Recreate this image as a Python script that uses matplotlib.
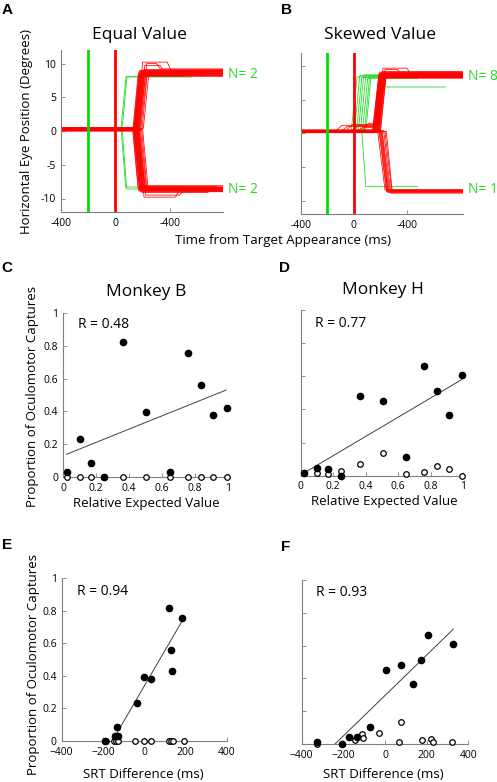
import matplotlib
matplotlib.use("Agg")
import matplotlib.pyplot as plt

plt.rcParams["font.family"] = ["Open Sans", "DejaVu Sans"]
plt.rcParams["axes.unicode_minus"] = False

W, H = 497, 782

# ── eye traces: (baseline, onset, landing, amplitude, end) in ms / deg ──
A_RED_UP = [
    (0.2, 128, 168, 8.6, 790), (0.3, 132, 172, 8.3, 790), (0.1, 135, 175, 8.9, 790),
    (0.4, 137, 180, 8.5, 790), (0.2, 140, 178, 8.2, 790), (0.3, 142, 185, 8.8, 760),
    (0.5, 144, 182, 9.0, 790), (0.2, 146, 190, 8.4, 790), (0.0, 148, 188, 8.7, 790),
    (0.3, 150, 192, 8.6, 700), (0.4, 152, 195, 8.1, 790), (0.2, 155, 193, 8.9, 790),
    (0.1, 158, 200, 8.5, 790), (0.3, 160, 205, 8.3, 790), (0.2, 163, 203, 8.7, 790),
    (0.4, 166, 210, 9.1, 790), (0.3, 170, 212, 8.4, 650), (0.1, 175, 215, 8.8, 790),
    (0.2, 180, 222, 8.6, 790), (0.3, 186, 228, 8.2, 790), (0.2, 195, 235, 8.9, 790),
    (0.4, 205, 245, 8.5, 790),
]
A_RED_DOWN = [
    (0.2, 126, 166, -8.5, 790), (0.3, 130, 170, -8.8, 790), (0.1, 133, 176, -8.3, 790),
    (0.4, 136, 178, -8.9, 790), (0.2, 139, 180, -8.6, 790), (0.3, 141, 184, -8.2, 740),
    (0.5, 143, 186, -9.0, 790), (0.2, 146, 188, -8.4, 790), (0.0, 148, 190, -8.7, 790),
    (0.3, 151, 193, -8.5, 790), (0.4, 153, 196, -9.1, 680), (0.2, 156, 198, -8.3, 790),
    (0.1, 159, 201, -8.8, 790), (0.3, 162, 205, -8.6, 790), (0.2, 165, 207, -8.1, 790),
    (0.4, 168, 212, -8.9, 790), (0.3, 172, 215, -8.5, 790), (0.1, 178, 220, -8.7, 790),
    (0.2, 184, 226, -8.4, 790), (0.3, 192, 232, -8.8, 790), (0.2, 200, 240, -8.6, 790),
]
# (baseline, onset, landing, peak, hold, amplitude, end)
A_RED_HUMP = [
    (0.3, 150, 200, 10.2, 380, 8.9, 790), (0.2, 165, 215, 9.7, 330, 8.6, 560),
    (0.4, 175, 230, 10.0, 300, 9.2, 790), (0.3, 160, 210, -9.8, 440, -8.8, 790),
    (0.2, 172, 222, -9.5, 470, -8.9, 790),
]
A_GREEN_UP = [(0.3, 40, 78, 8.1, 510), (0.2, 48, 85, 8.0, 560)]
A_GREEN_DOWN = [(0.3, 42, 75, -8.3, 480), (0.2, 50, 82, -8.6, 520)]

B_RED_UP = [
    (0.3, 140, 188, 8.6, 825), (0.2, 144, 190, 8.9, 825), (0.4, 147, 193, 8.3, 825),
    (0.3, 150, 196, 9.1, 825), (0.1, 153, 198, 8.5, 825), (0.3, 156, 200, 8.8, 825),
    (0.5, 158, 204, 8.2, 825), (0.2, 161, 206, 9.0, 825), (0.3, 164, 208, 8.7, 825),
    (0.4, 167, 212, 8.4, 825), (0.2, 170, 214, 9.2, 825), (0.3, 173, 217, 8.6, 665),
    (0.1, 176, 220, 8.9, 825), (0.3, 179, 223, 8.3, 825), (0.4, 182, 226, 8.8, 825),
    (0.2, 185, 230, 8.5, 825), (0.3, 189, 233, 9.0, 825), (0.3, 193, 237, 8.6, 700),
    (0.2, 197, 240, 8.4, 825), (0.4, 202, 245, 8.8, 825),
]
# (baseline, drift start, drift level, onset, landing, amplitude, end)
B_RED_DRIFT = [
    (0.3, -140, 1.2, 150, 195, 8.8, 825), (0.2, -100, 1.0, 160, 200, 8.5, 825),
    (0.4, -60, 1.3, 170, 215, 9.0, 825), (0.3, -20, 1.1, 180, 225, 8.3, 825),
    (0.2, 20, 0.9, 165, 210, 8.7, 825), (0.3, 60, 1.5, 190, 235, 8.6, 825),
]
B_RED_DOWN = [
    (0.3, 180, 235, -8.4, 825), (0.4, 190, 245, -8.6, 825), (0.2, 195, 250, -8.7, 825),
    (0.3, 200, 255, -8.5, 825), (0.5, 205, 258, -8.8, 825), (0.3, 210, 262, -8.4, 825),
    (0.2, 215, 270, -8.6, 825), (0.4, 225, 278, -8.9, 825), (0.3, 235, 285, -8.5, 825),
    (0.3, 245, 290, -8.7, 825),
]
B_RED_HUMP = [(0.3, 175, 220, 9.7, 400, 8.8, 825), (0.2, 185, 235, 9.5, 330, 8.4, 825)]
B_GREEN_UP = [
    (0.3, -20, 25, 8.4, 420), (0.3, 5, 45, 8.6, 520), (0.2, 20, 60, 8.3, 600),
    (0.4, 35, 75, 8.7, 450), (0.3, 50, 90, 8.5, 500), (0.3, 65, 105, 8.2, 480),
    (0.2, 80, 120, 8.6, 700),
]
B_GREEN_HUMP = [(0.3, 90, 130, 8.4, 210, 6.9, 690)]
B_GREEN_DOWN = [(0.3, 60, 90, -7.9, 480)]

# ── capture proportions ──
REV = [0.02, 0.10, 0.17, 0.25, 0.365, 0.505, 0.65, 0.76, 0.84, 0.91, 0.995]
C_FILLED = [0.03, 0.235, 0.085, 0.0, 0.82, 0.395, 0.03, 0.757, 0.56, 0.38, 0.42]
C_HOLLOW = [0.0] * 11
C_FIT_X, C_FIT_Y = [0.02, 0.99], [0.14, 0.53]

D_FILLED = [0.015, 0.045, 0.04, 0.0, 0.483, 0.449, 0.11, 0.664, 0.513, 0.368, 0.61]
D_HOLLOW = [0.018, 0.015, 0.01, 0.028, 0.069, 0.135, 0.008, 0.024, 0.058, 0.038, 0.0]
D_FIT_X, D_FIT_Y = [0.016, 0.99], [0.014, 0.58]

E_FILLED_X = [-190, -141, -133, -125, -36, 0, 32, 121, 128, 134, 185]
E_FILLED_Y = [0.0, 0.03, 0.085, 0.03, 0.235, 0.395, 0.38, 0.82, 0.56, 0.43, 0.757]
E_HOLLOW_X = [-185, -145, -138, -127, -44, 0, 32, 122, 130, 140, 191]
E_HOLLOW_Y = [0.0] * 11
E_FIT_X, E_FIT_Y = [-141, 185], [0.03, 0.74]

F_FILLED_X = [-325, -208, -173, -133, -72, 5, 75, 133, 171, 208, 328]
F_FILLED_Y = [0.01, 0.0, 0.04, 0.04, 0.105, 0.449, 0.483, 0.368, 0.513, 0.664, 0.61]
F_HOLLOW_X = [-325, -144, -112, -104, -29, 77, 69, 176, 220, 229, 323]
F_HOLLOW_Y = [0.0, 0.025, 0.06, 0.035, 0.07, 0.135, 0.01, 0.025, 0.03, 0.015, 0.015]
F_FIT_X, F_FIT_Y = [-240, 328], [0.0, 0.70]

RED = "#ff0000"
GREEN = "#22dd22"
SPINE = "#808080"


def px_rect(l, t, r, b):
    return [l / W, 1 - b / H, (r - l) / W, (b - t) / H]


def ftext(x, y, s, **kw):
    fig.text(x / W, 1 - y / H, s, **kw)


def trace(base, onset, land, amp, end, drift=None, hump=None):
    t, y = [-400], [base]
    if drift:
        t += [drift[0], drift[0] + 50]
        y += [base, drift[1]]
        base = drift[1]
    t += [onset, land]
    y += [base, hump[0] if hump else amp]
    if hump:
        t += [hump[1], hump[1] + 30]
        y += [hump[0], amp]
    t.append(end)
    y.append(amp)
    return t, y


def style(ax):
    for s in ("top", "right"):
        ax.spines[s].set_visible(False)
    for s in ("left", "bottom"):
        ax.spines[s].set_color(SPINE)
        ax.spines[s].set_linewidth(0.8)
    ax.tick_params(direction="in", length=3, width=0.6, color=SPINE, labelsize=7.5)
    ax.tick_params(axis="x", pad=4)
    ax.tick_params(axis="y", pad=3.5)


def eye_panel(ax, plain_red, hump_red, drift_red, green_plain, green_hump, xmax):
    # green first, red on top (as in the original the red baseline hides the green)
    for tr in green_plain:
        ax.plot(*trace(*tr), color=GREEN, lw=0.6)
    for b, on, ld, pk, hold, amp, end in green_hump:
        ax.plot(*trace(b, on, ld, amp, end, hump=(pk, hold)), color=GREEN, lw=0.6)
    for tr in plain_red:
        ax.plot(*trace(*tr), color=RED, lw=0.55)
    for b, on, ld, pk, hold, amp, end in hump_red:
        ax.plot(*trace(b, on, ld, amp, end, hump=(pk, hold)), color=RED, lw=0.55)
    for b, td, lvl, on, ld, amp, end in drift_red:
        ax.plot(*trace(b, on, ld, amp, end, drift=(td, lvl)), color=RED, lw=0.55)
    ax.axvline(-200, color="#00e000", lw=2)
    ax.axvline(0, color=RED, lw=2)
    ax.set_xlim(-400, xmax)
    ax.set_ylim(-12, 12)
    ax.set_xticks([-400, 0, 400])
    ax.set_xticklabels(["-400", "0", "-400"])
    ax.set_yticks([-10, -5, 0, 5, 10])
    style(ax)


def capture_panel(ax, fx, fy, hx, hy, fitx, fity):
    ax.plot(fitx, fity, color="#404040", lw=0.7)
    ax.plot(hx, hy, "o", ms=4, mfc="white", mec="black", mew=0.9, clip_on=False, zorder=3)
    ax.plot(fx, fy, "o", ms=4.5, color="black", clip_on=False, zorder=4)
    ax.set_ylim(0, 1)
    ax.set_yticks([0, 0.2, 0.4, 0.6, 0.8, 1])
    style(ax)


fig = plt.figure(figsize=(W / 100, H / 100), dpi=100)

# A
axA = fig.add_axes(px_rect(61, 50, 223, 212))
eye_panel(axA, A_RED_UP + A_RED_DOWN, A_RED_HUMP, [],
          A_GREEN_UP + A_GREEN_DOWN, [], 790)
axA.set_yticklabels(["-10", "-5", "0", "5", "10"])

# B
axB = fig.add_axes(px_rect(300.7, 52.7, 463.3, 214))
eye_panel(axB, B_RED_UP + B_RED_DOWN, B_RED_HUMP, B_RED_DRIFT,
          B_GREEN_UP + B_GREEN_DOWN, B_GREEN_HUMP, 825)
axB.set_yticklabels([])

# C
axC = fig.add_axes(px_rect(63.3, 312.7, 227.7, 477.3))
capture_panel(axC, REV, C_FILLED, REV, C_HOLLOW, C_FIT_X, C_FIT_Y)
axC.set_xlim(0, 1)
axC.set_xticks([0, 0.2, 0.4, 0.6, 0.8, 1])
axC.set_xticklabels(["0", "0.2", "0.4", "0.6", "0.8", "1"])
axC.set_yticklabels(["0", "0.2", "0.4", "0.6", "0.8", "1"])

# D
axD = fig.add_axes(px_rect(300.7, 310, 463.3, 475.7))
capture_panel(axD, REV, D_FILLED, REV, D_HOLLOW, D_FIT_X, D_FIT_Y)
axD.set_xlim(0, 1)
axD.set_xticks([0, 0.2, 0.4, 0.6, 0.8, 1])
axD.set_xticklabels(["0", "0.2", "0.4", "0.6", "0.8", "1"])
axD.set_yticklabels([])

# E
srt_ticks = [-400, -200, 0, 200, 400]
srt_labels = ["\u2212400", "\u2212200", "0", "200", "400"]
axE = fig.add_axes(px_rect(61.7, 578.3, 226.7, 741))
capture_panel(axE, E_FILLED_X, E_FILLED_Y, E_HOLLOW_X, E_HOLLOW_Y, E_FIT_X, E_FIT_Y)
axE.set_xlim(-400, 400)
axE.set_xticks(srt_ticks)
axE.set_xticklabels(srt_labels)
axE.set_yticklabels(["0", "0.2", "0.4", "0.6", "0.8", "1"])

# F
axF = fig.add_axes(px_rect(301.7, 580, 468.3, 744))
capture_panel(axF, F_FILLED_X, F_FILLED_Y, F_HOLLOW_X, F_HOLLOW_Y, F_FIT_X, F_FIT_Y)
axF.set_xlim(-400, 400)
axF.set_xticks(srt_ticks)
axF.set_xticklabels(srt_labels)
axF.set_yticklabels([])

# ── text ──
letter = dict(fontsize=11, fontweight="bold", family="Liberation Sans",
              ha="center", va="center")
for s, x, y in [("A", 7, 10), ("B", 286, 10), ("C", 7, 268), ("D", 285, 268),
                ("E", 7, 545), ("F", 286, 547)]:
    ftext(x, y, s, **letter)

title = dict(fontsize=12.5, ha="center", va="center")
ftext(139, 35, "Equal Value", **title)
ftext(380.5, 35, "Skewed Value", **title)
ftext(146, 291.5, "Monkey B", **title)
ftext(382.5, 290.5, "Monkey H", **title)

lab = dict(fontsize=9.5, ha="center", va="center")
ftext(27, 132, "Horizontal Eye Position (Degrees)", rotation=90, **lab)
ftext(283, 240.5, "Time from Target Appearance (ms)", **lab)
ftext(33, 396, "Proportion of Oculomotor Captures", rotation=90, **lab)
ftext(34, 664, "Proportion of Oculomotor Captures", rotation=90, **lab)
ftext(146, 503, "Relative Expected Value", **lab)
ftext(384, 502, "Relative Expected Value", **lab)
ftext(143, 774, "SRT Difference (ms)", **lab)
ftext(383, 775, "SRT Difference (ms)", **lab)

rt = dict(fontsize=10, ha="left", va="center")
ftext(78, 325, "R = 0.48", **rt)
ftext(315, 323, "R = 0.77", **rt)
ftext(77, 591.5, "R = 0.94", **rt)
ftext(316.5, 592.5, "R = 0.93", **rt)

nt = dict(fontsize=10, ha="left", va="center", color=GREEN)
ftext(227.5, 75, "N= 2", **nt)
ftext(227.5, 189.5, "N= 2", **nt)
ftext(468, 76, "N= 8", **nt)
ftext(468, 189.5, "N= 1", **nt)

fig.savefig("out.png", dpi=100)
